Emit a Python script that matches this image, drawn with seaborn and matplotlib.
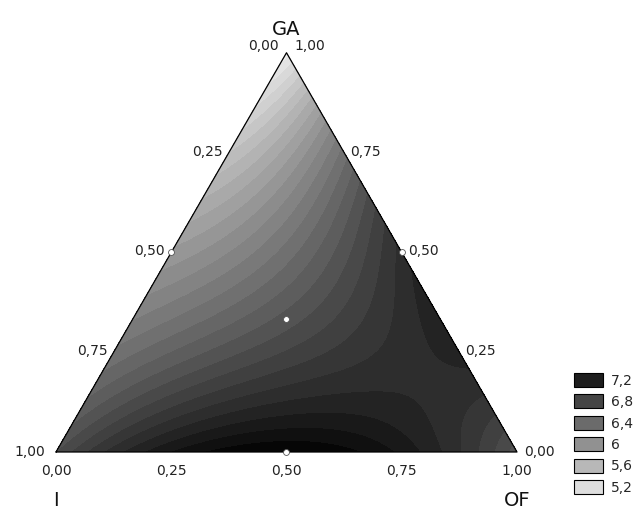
import numpy as np
import matplotlib
matplotlib.use('Agg')
import matplotlib.pyplot as plt
import matplotlib.tri as mtri
from matplotlib.patches import Patch
from matplotlib.colors import Normalize
from matplotlib.transforms import ScaledTranslation
import seaborn as sns

# Scheffe special cubic model coefficients (I, OF, GA)
b_I, b_OF, b_GA = 6.69, 6.64, 5.04
b_I_OF, b_I_GA, b_OF_GA = 3.3, 0.22, 4.8
b_I_OF_GA = -11.0

# design points shown as white dots (I, OF, GA fractions)
design_I = [0.5, 0.0, 0.5, 1 / 3]
design_OF = [0.0, 0.5, 0.5, 1 / 3]
design_GA = [0.5, 0.5, 0.0, 1 / 3]

# legend levels and tick labels
legend_levels = [7.2, 6.8, 6.4, 6.0, 5.6, 5.2]
legend_labels = ["7,2", "6,8", "6,4", "6", "5,6", "5,2"]
tick_values = [0.0, 0.25, 0.5, 0.75, 1.0]
tick_labels = ["0,00", "0,25", "0,50", "0,75", "1,00"]

sns.set_theme(style="white")
plt.rcParams['font.family'] = ['DejaVu Sans']

H = np.sqrt(3) / 2


def to_xy(i, of, ga):
    # I at (0,0), OF at (1,0), GA at top
    x = np.asarray(of) + 0.5 * np.asarray(ga)
    y = H * np.asarray(ga)
    return x, y


def model(i, of, ga):
    return (b_I * i + b_OF * of + b_GA * ga
            + b_I_OF * i * of + b_I_GA * i * ga + b_OF_GA * of * ga
            + b_I_OF_GA * i * of * ga)


# barycentric grid
n = 140
pts = []
for a in range(n + 1):
    for b in range(n + 1 - a):
        c = n - a - b
        pts.append((a / n, b / n, c / n))
pts = np.array(pts)
gx, gy = to_xy(pts[:, 0], pts[:, 1], pts[:, 2])
z = model(pts[:, 0], pts[:, 1], pts[:, 2])
tri = mtri.Triangulation(gx, gy)

fig = plt.figure(figsize=(6.38, 5.15), dpi=100)
ax = fig.add_axes([0, 0, 1, 1])
ax.set_xlim(-56 / 461, (638 - 56) / 461)
ax.set_ylim(-63 / 461, (515 - 63) / 461)
ax.axis('off')

norm = Normalize(vmin=4.85, vmax=7.52)
cmap = plt.get_cmap('gray_r')
levels = np.arange(4.9, 7.65, 0.1)
ax.tricontourf(tri, z, levels=levels, cmap=cmap, norm=norm, extend='both')

# triangle outline
vx, vy = to_xy([1, 0, 0, 1], [0, 1, 0, 0], [0, 0, 1, 0])
ax.plot(vx, vy, color='black', lw=0.9)

# design points
dx, dy = to_xy(design_I, design_OF, design_GA)
sns.scatterplot(x=dx, y=dy, ax=ax, color='white', edgecolor='#555555',
                s=18, linewidth=0.6, zorder=5, legend=False)

fs = 10
px = 1 / 461
tc = '#222222'
# bottom axis: OF fraction
for v, lab in zip(tick_values, tick_labels):
    x, y = to_xy(1 - v, v, 0)
    ax.text(x, y - 12 * px, lab, ha='center', va='top', fontsize=fs, color=tc)
# left axis: I fraction
for v, lab in zip(tick_values, tick_labels):
    x, y = to_xy(v, 0, 1 - v)
    if v == 0.0:
        ax.text(x - 8 * px, y + 7 * px, lab, ha='right', va='center', fontsize=fs, color=tc)
    elif v == 1.0:
        ax.text(x - 11 * px, y + 0 * px, lab, ha='right', va='center', fontsize=fs, color=tc)
    else:
        ax.text(x - 6 * px, y + 1 * px, lab, ha='right', va='center', fontsize=fs, color=tc)
# right axis: GA fraction
for v, lab in zip(tick_values, tick_labels):
    x, y = to_xy(0, 1 - v, v)
    if v == 1.0:
        ax.text(x + 8 * px, y + 7 * px, lab, ha='left', va='center', fontsize=fs, color=tc)
    elif v == 0.0:
        ax.text(x + 7 * px, y + 0 * px, lab, ha='left', va='center', fontsize=fs, color=tc)
    else:
        ax.text(x + 6 * px, y + 1 * px, lab, ha='left', va='center', fontsize=fs, color=tc)

# corner names
lab_fs = 14
ax.text(*to_xy(0, 0, 1), "GA", ha='center', va='center', fontsize=lab_fs, color='#111111',
        transform=ax.transData + ScaledTranslation(0, 23 / 100, fig.dpi_scale_trans))
ax.text(*to_xy(1, 0, 0), "I", ha='center', va='center', fontsize=lab_fs, color='#111111',
        transform=ax.transData + ScaledTranslation(0, -48 / 100, fig.dpi_scale_trans))
ax.text(*to_xy(0, 1, 0), "OF", ha='center', va='center', fontsize=lab_fs, color='#111111',
        transform=ax.transData + ScaledTranslation(0, -48 / 100, fig.dpi_scale_trans))

handles = [Patch(facecolor=cmap(norm(v)), edgecolor='black', linewidth=0.8) for v in legend_levels]
fig.legend(handles, legend_labels, loc='upper left', bbox_to_anchor=(571 / 638, 1 - 370 / 515),
           frameon=False, fontsize=10, handlelength=2.1, handleheight=1.2,
           labelspacing=0.48, handletextpad=0.6, borderpad=0.2, borderaxespad=0)

fig.savefig('out.png', dpi=100)
